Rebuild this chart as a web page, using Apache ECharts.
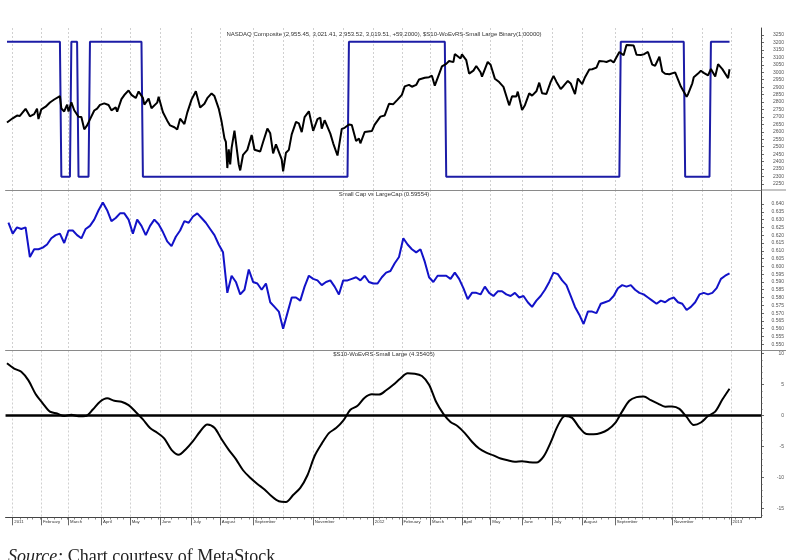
<!DOCTYPE html>
<html><head><meta charset="utf-8">
<script src="https://cdn.jsdelivr.net/npm/echarts@6/dist/echarts.min.js"></script>
<style>html,body{margin:0;padding:0;background:#fff}#c{width:800px;height:560px}</style>
</head><body><div id="c"></div>
<script>
// ---------- calendar (trading days) ----------
const firstDay = '2010-12-27', lastDay = '2013-02-01', lastLabelDay = '2013-01-15';
const holidays = ['2011-01-17','2011-02-21','2011-04-22','2011-05-30','2011-07-04','2011-09-05','2011-11-24','2011-12-26',
  '2012-01-02','2012-01-16','2012-02-20','2012-04-06','2012-05-28','2012-07-04','2012-09-03','2012-10-29','2012-10-30',
  '2012-11-22','2012-12-25','2013-01-01','2013-01-21'];
const monthNames = ['January','February','March','April','May','June','July','August','September','October','November','December'];
const unlabeledMonths = [9, 11];

// ---------- panel 1: NASDAQ Composite (close) ----------
const nasdaq = [
['2010-12-28',2663],['2011-01-03',2691],['2011-01-06',2709],['2011-01-10',2707],['2011-01-14',2755],['2011-01-18',2765],
['2011-01-20',2704],['2011-01-25',2719],['2011-01-27',2756],['2011-01-28',2686],['2011-02-01',2751],['2011-02-04',2769],
['2011-02-09',2797],['2011-02-14',2817],['2011-02-18',2840],['2011-02-22',2757],['2011-02-24',2737],['2011-02-28',2782],
['2011-03-01',2737],['2011-03-03',2798],['2011-03-07',2745],['2011-03-10',2701],['2011-03-14',2700],['2011-03-16',2617],
['2011-03-18',2643],['2011-03-22',2684],['2011-03-25',2743],['2011-03-29',2756],['2011-03-31',2781],['2011-04-05',2791],
['2011-04-08',2780],['2011-04-12',2744],['2011-04-15',2764],['2011-04-18',2735],['2011-04-21',2820],['2011-04-26',2847],
['2011-04-29',2878],['2011-05-03',2848],['2011-05-06',2827],['2011-05-10',2871],['2011-05-13',2828],['2011-05-16',2783],
['2011-05-19',2823],['2011-05-23',2758],['2011-05-27',2796],['2011-05-31',2835],['2011-06-03',2732],['2011-06-08',2675],
['2011-06-10',2643],['2011-06-15',2631],['2011-06-17',2616],['2011-06-21',2688],['2011-06-24',2652],['2011-06-28',2729],
['2011-07-01',2816],['2011-07-07',2872],['2011-07-12',2763],['2011-07-15',2789],['2011-07-19',2826],['2011-07-22',2858],
['2011-07-26',2840],['2011-07-29',2756],['2011-08-02',2669],['2011-08-04',2556],['2011-08-05',2532],['2011-08-08',2357],
['2011-08-09',2482],['2011-08-10',2381],['2011-08-11',2492],['2011-08-15',2608],['2011-08-18',2380],['2011-08-19',2341],
['2011-08-23',2446],['2011-08-26',2479],['2011-08-31',2579],['2011-09-02',2480],['2011-09-06',2473],['2011-09-09',2468],
['2011-09-13',2532],['2011-09-16',2622],['2011-09-20',2590],['2011-09-22',2455],['2011-09-26',2516],['2011-09-30',2415],
['2011-10-03',2335],['2011-10-05',2460],['2011-10-07',2479],['2011-10-11',2583],['2011-10-14',2667],['2011-10-18',2657],
['2011-10-20',2598],['2011-10-24',2699],['2011-10-27',2738],['2011-11-01',2607],['2011-11-04',2686],['2011-11-08',2695],
['2011-11-09',2621],['2011-11-11',2678],['2011-11-17',2588],['2011-11-21',2523],['2011-11-25',2441],['2011-11-30',2620],
['2011-12-02',2627],['2011-12-07',2649],['2011-12-09',2646],['2011-12-14',2539],['2011-12-16',2555],['2011-12-19',2523],
['2011-12-22',2599],['2011-12-30',2605],['2012-01-04',2648],['2012-01-10',2702],['2012-01-13',2710],['2012-01-19',2788],
['2012-01-24',2786],['2012-01-27',2816],['2012-02-01',2848],['2012-02-03',2905],['2012-02-08',2915],['2012-02-10',2903],
['2012-02-15',2915],['2012-02-17',2951],['2012-02-24',2963],['2012-02-29',2967],['2012-03-02',2977],['2012-03-06',2910],
['2012-03-09',2988],['2012-03-13',3040],['2012-03-16',3056],['2012-03-20',3075],['2012-03-23',3068],['2012-03-26',3122],
['2012-03-30',3092],['2012-04-02',3120],['2012-04-05',3081],['2012-04-10',2991],['2012-04-13',3011],['2012-04-17',3042],
['2012-04-20',3000],['2012-04-23',2970],['2012-04-27',3069],['2012-05-01',3050],['2012-05-04',2957],['2012-05-09',2934],
['2012-05-14',2902],['2012-05-18',2778],['2012-05-22',2839],['2012-05-25',2837],['2012-05-29',2870],['2012-06-01',2747],
['2012-06-05',2779],['2012-06-08',2858],['2012-06-12',2843],['2012-06-15',2872],['2012-06-19',2930],['2012-06-21',2859],
['2012-06-26',2854],['2012-06-29',2935],['2012-07-03',2976],['2012-07-06',2937],['2012-07-11',2887],['2012-07-13',2908],
['2012-07-18',2942],['2012-07-20',2925],['2012-07-25',2854],['2012-07-27',2958],['2012-08-01',2920],['2012-08-03',2967],
['2012-08-08',3018],['2012-08-10',3020],['2012-08-15',3031],['2012-08-17',3076],['2012-08-22',3073],['2012-08-24',3069],
['2012-08-29',3081],['2012-08-31',3066],['2012-09-04',3075],['2012-09-07',3136],['2012-09-12',3114],['2012-09-14',3183],
['2012-09-19',3182],['2012-09-21',3180],['2012-09-25',3117],['2012-09-28',3116],['2012-10-02',3120],['2012-10-05',3136],
['2012-10-10',3051],['2012-10-12',3044],['2012-10-17',3104],['2012-10-19',3005],['2012-10-23',2990],['2012-10-26',2987],
['2012-10-31',2977],['2012-11-05',2999],['2012-11-09',2904],['2012-11-15',2836],['2012-11-16',2853],['2012-11-21',2926],
['2012-11-23',2967],['2012-11-28',2991],['2012-11-30',3010],['2012-12-04',2996],['2012-12-07',2979],['2012-12-11',3022],
['2012-12-14',2971],['2012-12-18',3054],['2012-12-21',3021],['2012-12-24',3012],['2012-12-28',2960],['2012-12-31',3020]
];
// binary signal (1 / 0), value held between listed days
const binary = [
['2010-12-28',1],['2011-02-18',1],['2011-02-22',0],['2011-03-02',0],['2011-03-03',1],['2011-03-09',1],['2011-03-10',0],
['2011-03-21',0],['2011-03-22',1],['2011-05-12',1],['2011-05-13',0],['2011-12-06',0],['2011-12-07',1],['2012-03-15',1],
['2012-03-16',0],['2012-09-07',0],['2012-09-10',1],['2012-11-13',1],['2012-11-14',0],['2012-12-10',0],['2012-12-11',1],
['2012-12-31',1]
];

// ---------- panel 2: Small Cap vs LargeCap, every 3rd trading day from start ----------
const ratioStart = '2010-12-29', ratioStep = 3;
const ratio = [
.628,.621,.625,.624,.625,.606,.611,.611,.612,.614,.618,.620,.621,.615,.623,.623,.620,.618,.624,.626,
.630,.636,.641,.636,.629,.631,.634,.634,.630,.621,.630,.626,.620,.626,.630,.627,.622,.616,.613,.619,
.623,.629,.628,.632,.634,.631,.628,.624,.620,.614,.609,.583,.594,.590,.582,.585,.598,.590,.589,.585,
.589,.577,.574,.571,.560,.570,.580,.580,.578,.587,.594,.592,.591,.588,.590,.591,.587,.582,.591,.591,
.592,.593,.591,.594,.590,.589,.589,.593,.596,.597,.602,.606,.618,.614,.611,.609,.611,.603,.593,.590,
.594,.594,.594,.592,.596,.592,.586,.579,.583,.583,.582,.587,.583,.581,.584,.584,.582,.581,.583,.580,
.581,.577,.574,.578,.581,.585,.590,.596,.595,.591,.588,.581,.574,.569,.563,.571,.571,.570,.576,.577,
.578,.581,.586,.588,.587,.588,.585,.583,.582,.580,.578,.576,.578,.577,.579,.580,.577,.576,.572,.574,
.577,.582,.583,.582,.583,.586,.592,.594,.5955
];

// ---------- panel 3: $S10-WoEvRS-Small Large, every 5th trading day ----------
const oscStart = '2010-12-28', oscStep = 5;
const osc = [
8.45,7.6,7.1,5.7,3.5,2.0,0.65,0.35,-0.05,0.15,-0.1,-0.05,1.0,2.26,2.8,2.4,2.26,1.7,0.6,-0.6,
-2.0,-2.75,-3.7,-5.5,-6.3,-5.4,-4.1,-2.55,-1.4,-1.95,-3.8,-5.5,-7.0,-8.8,-10.0,-11.0,-11.9,-13.0,-13.8,-13.9,
-12.8,-11.65,-9.6,-6.5,-4.5,-2.8,-2.0,-0.8,0.95,1.6,2.9,3.45,3.4,4.1,5.0,6.0,6.83,6.78,6.4,5.0,
2.2,0.3,-1.0,-1.7,-2.8,-4.2,-5.3,-5.95,-6.4,-6.9,-7.2,-7.42,-7.35,-7.5,-7.55,-6.6,-4.3,-1.6,-0.05,-0.35,
-1.9,-2.95,-3.0,-2.8,-2.25,-1.2,0.7,2.4,3.0,3.1,2.5,1.95,1.45,1.5,1.1,-0.2,-1.5,-1.1,-0.05,0.65,
2.6,4.35
];

// ---------- axis tick values ----------
const p1Ticks = [2250,2300,2350,2400,2450,2500,2550,2600,2650,2700,2750,2800,2850,2900,2950,3000,3050,3100,3150,3200,3250];
const p2Ticks = [0.550,0.555,0.560,0.565,0.570,0.575,0.580,0.585,0.590,0.595,0.600,0.605,0.610,0.615,0.620,0.625,0.630,0.635,0.640];
const p3Ticks = [-15,-10,-5,0,5,10];

// ---------- build category list ----------
const cats = [];
{
  const d = new Date(firstDay + 'T00:00:00Z');
  const end = new Date(lastDay + 'T00:00:00Z');
  while (d <= end) {
    const s = d.toISOString().slice(0, 10);
    const w = d.getUTCDay();
    if (w !== 0 && w !== 6 && holidays.indexOf(s) < 0) cats.push(s);
    d.setUTCDate(d.getUTCDate() + 1);
  }
}
function idxOf(s) { for (let i = 0; i < cats.length; i++) if (cats[i] >= s) return i; return cats.length - 1; }
const dow = s => new Date(s + 'T00:00:00Z').getUTCDay();
const isMonthStart = cats.map((c, i) => i > 0 && c.slice(5, 7) !== cats[i - 1].slice(5, 7));
const isWeekStart = cats.map((c, i) => i > 0 && dow(c) <= dow(cats[i - 1]));
const isLabeledMonth = cats.map((c, i) => isMonthStart[i] && c <= lastLabelDay && unlabeledMonths.indexOf(+c.slice(5, 7) - 1) < 0);

const nasdaqData = nasdaq.map(p => [idxOf(p[0]), p[1]]);
const binaryData = binary.map(p => [idxOf(p[0]), p[1]]);
const r0 = idxOf(ratioStart), o0 = idxOf(oscStart);
const ratioData = ratio.map((v, i) => [r0 + i * ratioStep, v]);
const oscData = osc.map((v, i) => [o0 + i * oscStep, v]);

const mids = a => a.slice(0, -1).map((v, i) => (v + a[i + 1]) / 2);
const p3Minor = []; for (let v = -16; v <= 10; v++) if (v % 5) p3Minor.push(v);

// ---------- layout ----------
const L = 5.55, R = 39;
const P = [{top: 28, h: 162}, {top: 190, h: 160.5}, {top: 350.5, h: 166.8}];
const FONT = 'Liberation Sans';

function xAx(g, opts) {
  return Object.assign({
    type: 'category', gridIndex: g, data: cats, boundaryGap: false,
    axisLine: {show: true, onZero: false, lineStyle: {color: '#8a8a8a', width: 1}},
    axisTick: {show: false}, axisLabel: {show: false},
    splitLine: {show: true, interval: (i) => isMonthStart[i], lineStyle: {color: '#c4c4c4', width: 0.8, type: [2, 2]}}
  }, opts || {});
}
function yMain(g, min, max, ticks, fmt) {
  return {
    type: 'value', gridIndex: g, position: 'right', min: min, max: max, scale: true,
    axisLine: {show: true, lineStyle: {color: '#444', width: 1}},
    axisTick: {show: true, customValues: ticks, length: 3, lineStyle: {color: '#444', width: 0.8}},
    axisLabel: {show: true, customValues: ticks, formatter: fmt, fontSize: 5, fontFamily: FONT, color: '#555', align: 'right', margin: 23},
    splitLine: {show: false}
  };
}
function yMinor(g, min, max, ticks) {
  return {
    type: 'value', gridIndex: g, position: 'right', min: min, max: max, scale: true,
    axisLine: {show: false}, axisLabel: {show: false}, splitLine: {show: false},
    axisTick: {show: true, customValues: ticks, length: 1.6, lineStyle: {color: '#555', width: 0.7}}
  };
}

const p1min = 2209.7, p1max = 3297.0, p2min = 0.54603, p2max = 0.64898, p3min = -16.387, p3max = 10.516;

const option = {
  backgroundColor: '#fff',
  animation: false,
  grid: P.map(p => ({left: L, right: R, top: p.top, height: p.h, containLabel: false})),
  xAxis: [
    xAx(0),
    xAx(1),
    xAx(2, {
      axisLine: {show: true, onZero: false, lineStyle: {color: '#444', width: 1}},
      axisTick: {show: true, interval: (i) => isWeekStart[i], length: 2.2, lineStyle: {color: '#555', width: 0.7}},
      axisLabel: {show: true, interval: (i) => isLabeledMonth[i],
        formatter: (v) => { const m = +v.slice(5, 7) - 1; return m === 0 ? v.slice(0, 4) : monthNames[m]; },
        fontSize: 4.3, fontFamily: FONT, color: '#333', align: 'left', margin: 3, padding: [0, 0, 0, 1.6]}
    }),
    {type: 'category', gridIndex: 2, data: cats, boundaryGap: false, position: 'bottom',
     axisLine: {show: false, onZero: false}, axisLabel: {show: false}, splitLine: {show: false},
     axisTick: {show: true, interval: (i) => isLabeledMonth[i], length: 8, lineStyle: {color: '#444', width: 0.8}}}
  ],
  yAxis: [
    yMain(0, p1min, p1max, p1Ticks, v => String(Math.round(v))),
    {type: 'value', gridIndex: 0, show: false, min: -0.0985, max: 1.1015},
    yMinor(0, p1min, p1max, mids(p1Ticks)),
    yMain(1, p2min, p2max, p2Ticks, v => v.toFixed(3)),
    yMinor(1, p2min, p2max, mids(p2Ticks)),
    yMain(2, p3min, p3max, p3Ticks, v => String(Math.round(v))),
    yMinor(2, p3min, p3max, p3Minor)
  ],
  series: [
    {name: 'NASDAQ Composite', type: 'line', xAxisIndex: 0, yAxisIndex: 0, data: nasdaqData, symbol: 'none',
     lineStyle: {color: '#000', width: 2}, z: 3},
    {name: 'Binary', type: 'line', xAxisIndex: 0, yAxisIndex: 1, data: binaryData, symbol: 'none',
     lineStyle: {color: '#1c1ca6', width: 2}, z: 2},
    {name: 'Small Cap vs LargeCap', type: 'line', xAxisIndex: 1, yAxisIndex: 3, data: ratioData, symbol: 'none',
     lineStyle: {color: '#1212c8', width: 2}},
    {name: 'Small Large', type: 'line', xAxisIndex: 2, yAxisIndex: 5, data: oscData, symbol: 'none', smooth: 0.3,
     lineStyle: {color: '#000', width: 2},
     markLine: {silent: true, symbol: ['none', 'none'], label: {show: false},
       lineStyle: {color: '#000', width: 2.6, type: 'solid'}, data: [{yAxis: 0}]}}
  ],
  graphic: [
    {type: 'text', x: 384, y: 34, style: {text: 'NASDAQ Composite (2,955.45, 3,021.41, 2,953.52, 3,019.51, +59.2000), $S10-WoEvRS-Small Large Binary(1.00000)',
      fontSize: 6, fontFamily: FONT, fill: '#333', align: 'center', verticalAlign: 'middle'}},
    {type: 'text', x: 384, y: 194.3, style: {text: 'Small Cap vs LargeCap (0.59554)',
      fontSize: 6, fontFamily: FONT, fill: '#333', align: 'center', verticalAlign: 'middle'}},
    {type: 'text', x: 384, y: 354.3, style: {text: '$S10-WoEvRS-Small Large (4.35405)',
      fontSize: 6, fontFamily: FONT, fill: '#333', align: 'center', verticalAlign: 'middle'}},
    {type: 'line', shape: {x1: 761, y1: 190, x2: 786, y2: 190}, style: {stroke: '#8a8a8a', lineWidth: 1}},
    {type: 'line', shape: {x1: 761, y1: 350.5, x2: 786, y2: 350.5}, style: {stroke: '#8a8a8a', lineWidth: 1}},
    {type: 'text', x: 8, y: 548, style: {text: '{i|Source:} Chart courtesy of MetaStock',
      fontSize: 18, fontFamily: 'Liberation Serif', fill: '#222', verticalAlign: 'top',
      rich: {i: {fontStyle: 'italic', fontSize: 18, fontFamily: 'Liberation Serif', fill: '#222'}}}}
  ]
};
echarts.init(document.getElementById('c'), null, {renderer: 'canvas'}).setOption(option);
</script></body></html>
